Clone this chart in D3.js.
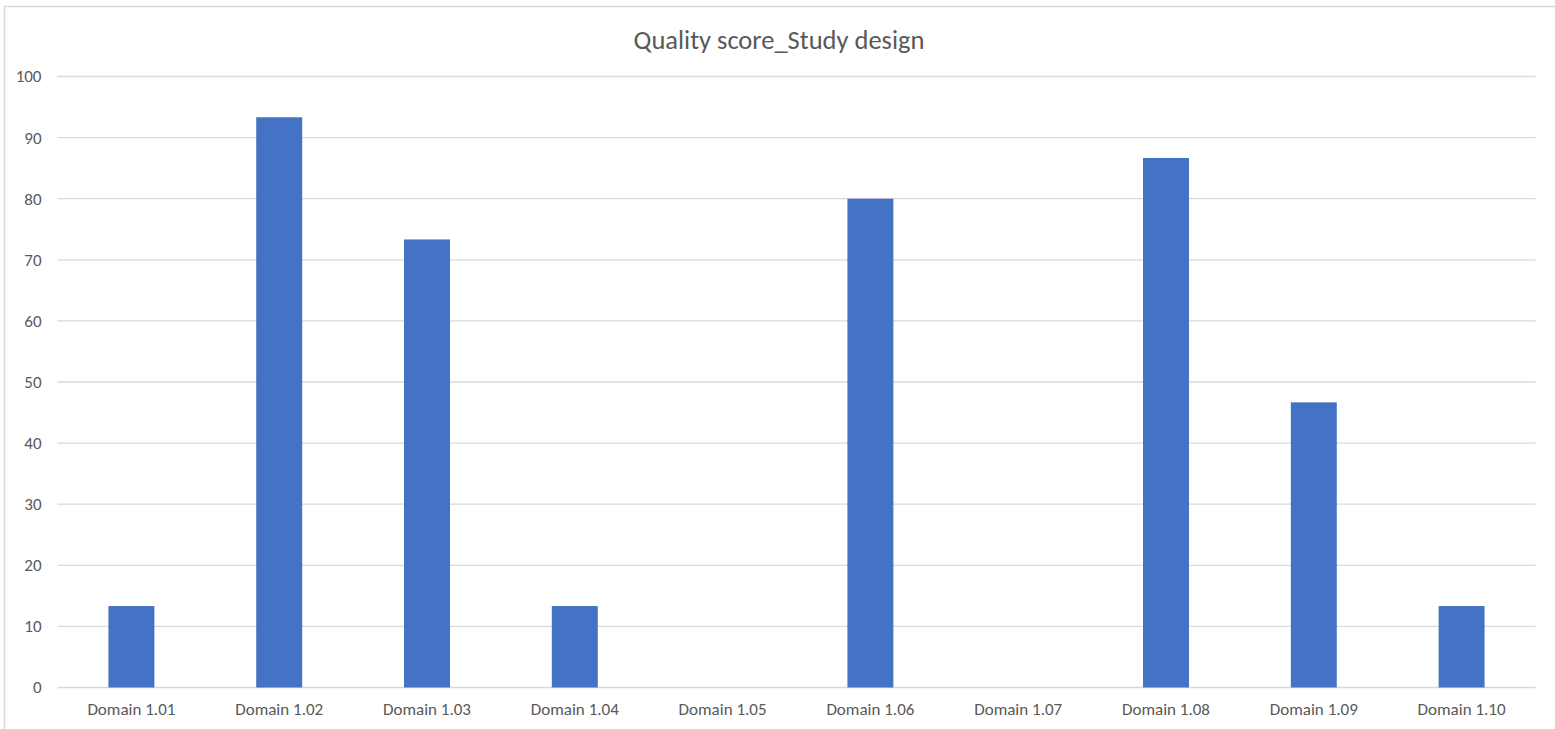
<!DOCTYPE html>
<html>
<head>
<meta charset="utf-8">
<script src="https://cdn.jsdelivr.net/npm/d3@7"></script>
<style>
  body { margin: 0; background: #fff; }
  text { font-family: Carlito, Calibri, Lato, "Open Sans", sans-serif; fill: #595959; }
</style>
</head>
<body>
<script>
const domains = ["Domain 1.01", "Domain 1.02", "Domain 1.03", "Domain 1.04", "Domain 1.05",
                 "Domain 1.06", "Domain 1.07", "Domain 1.08", "Domain 1.09", "Domain 1.10"];
const scores = [13.33, 93.33, 73.33, 13.33, 0, 80, 0, 86.67, 46.67, 13.33];
const yTicks = [0, 10, 20, 30, 40, 50, 60, 70, 80, 90, 100];
const chartTitle = "Quality score_Study design";

const width = 1555, height = 729;
const plotLeft = 57.5, plotRight = 1535.5, plotTop = 76.5, plotBottom = 687.5;

let svg = d3.select("body")
    .append("svg")
    .attr("width", width)
    .attr("height", height);

// outer chart frame
svg.append("rect")
    .attr("x", 4.5)
    .attr("y", 6.5)
    .attr("width", 1570)
    .attr("height", 740)
    .attr("fill", "none")
    .attr("stroke", "#d9d9d9")
    .attr("stroke-width", 1.5);

let x = d3.scaleBand()
    .domain(domains)
    .range([plotLeft, plotRight])
    .paddingInner(0.689)
    .paddingOuter(0.3445);

let y = d3.scaleLinear()
    .domain([0, 100])
    .range([plotBottom, plotTop]);

// gridlines
svg.append("g")
    .selectAll("line")
    .data(yTicks)
    .enter()
    .append("line")
    .attr("x1", plotLeft)
    .attr("x2", plotRight)
    .attr("y1", d => y(d))
    .attr("y2", d => y(d))
    .attr("stroke", "#d9d9d9")
    .attr("stroke-width", 1.3);

// y labels
let yAxis = svg.append("g")
    .attr("transform", "translate(" + (plotLeft - 16) + ",0)")
    .call(d3.axisLeft(y).tickValues(yTicks).tickSize(0).tickPadding(0))
    .attr("font-family", null)
    .attr("font-size", 17);
yAxis.select(".domain").remove();
yAxis.selectAll("text").attr("fill", "#595959");

// bars
svg.append("g")
    .selectAll("rect")
    .data(scores)
    .enter()
    .append("rect")
    .attr("x", (d, i) => x(domains[i]))
    .attr("y", d => y(d))
    .attr("width", x.bandwidth())
    .attr("height", d => plotBottom - y(d))
    .attr("fill", "#4472c4");

// x labels
let xAxis = svg.append("g")
    .attr("transform", "translate(0," + plotBottom + ")")
    .call(d3.axisBottom(x).tickSize(0).tickPadding(15))
    .attr("font-family", null)
    .attr("font-size", 17);
xAxis.select(".domain").remove();
xAxis.selectAll("text").attr("fill", "#595959");

// title sits a bit left of the plot centre, like the original
svg.append("text")
    .attr("x", 779)
    .attr("y", 49)
    .attr("text-anchor", "middle")
    .attr("font-size", 26.5)
    .text(chartTitle);
</script>
</body>
</html>
